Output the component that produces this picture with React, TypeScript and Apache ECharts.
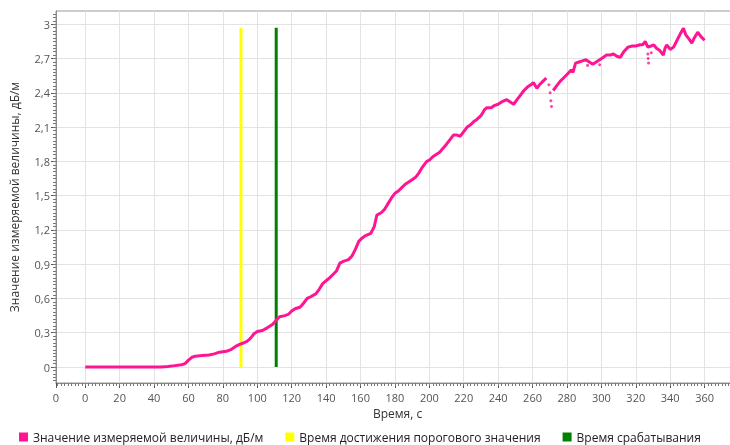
import React, { useEffect, useRef } from "react";
import * as echarts from "echarts";

const seriesNames = [
  "Значение измеряемой величины, дБ/м",
  "Время достижения порогового значения",
  "Время срабатывания",
];

const times: (number | null)[] = [
  0, 10, 20, 30, 40, 44, 48, 52, 56, 58, 60, 62, 64, 68, 72, 75, 78, 82, 85, 88, 90, 92, 94, 96, 98,
  100, 103, 106, 109, 111, 113, 116, 118, 120, 122, 125, 127, 129, 131, 134, 136, 138, 140, 142,
  144, 146, 148, 150, 153, 155, 157, 159, 161, 163, 166, 168, 169.5, 172, 174, 176, 178, 180, 182,
  184, 186, 188, 190, 192, 194, 196, 198.5, 200, 202, 204, 206, 208, 210, 212, 214, 216, 218, 220,
  222, 224, 226, 227.5, 230, 232, 233.5, 236, 238, 240, 242, 245, 247, 249, 251, 253, 255, 257, 259,
  260.5, 262.5, 264, 266, 268, 270, 272, 274, 276, 278, 280, 282.5, 283.5, 285, 287, 289, 291, 293,
  295, 297, 299, 301, 303, 305, 307, 309, 311, 313, 315.5, 318, 320, 322.5, 324, 325.5, 327, 329,
  330.5, 332, 334, 336, 337, 338, 340, 342, 344, 346, 347.7, 349, 351, 352.6, 354, 356, 358, 360,
];

const values: (number | null)[] = [
  0, 0, 0, 0, 0, 0, 0.005, 0.012, 0.02, 0.03, 0.06, 0.085, 0.095, 0.1, 0.105, 0.115, 0.13, 0.137,
  0.155, 0.185, 0.2, 0.21, 0.225, 0.25, 0.29, 0.31, 0.32, 0.345, 0.375, 0.41, 0.44, 0.45, 0.46, 0.49,
  0.51, 0.525, 0.56, 0.6, 0.615, 0.64, 0.68, 0.73, 0.755, 0.78, 0.81, 0.84, 0.91, 0.925, 0.94, 0.97,
  1.03, 1.1, 1.13, 1.15, 1.17, 1.23, 1.33, 1.35, 1.38, 1.43, 1.48, 1.52, 1.54, 1.57, 1.6, 1.62, 1.64,
  1.66, 1.7, 1.75, 1.8, 1.81, 1.84, 1.86, 1.88, 1.915, 1.95, 1.99, 2.03, 2.03, 2.02, 2.06, 2.1, 2.12,
  2.15, 2.165, 2.2, 2.25, 2.27, 2.27, 2.29, 2.3, 2.32, 2.34, 2.32, 2.3, 2.34, 2.38, 2.42, 2.45, 2.47,
  2.49, 2.44, 2.47, 2.5, 2.53, null, 2.42, 2.46, 2.5, 2.53, 2.56, 2.6, 2.58, 2.66, 2.67, 2.68, 2.69,
  2.67, 2.65, 2.67, 2.69, 2.71, 2.73, 2.73, 2.74, 2.72, 2.71, 2.76, 2.8, 2.81, 2.81, 2.82, 2.82, 2.85,
  2.8, 2.81, 2.82, 2.79, 2.77, 2.73, 2.79, 2.82, 2.78, 2.8, 2.86, 2.92, 2.965, 2.91, 2.87, 2.835,
  2.88, 2.93, 2.89, 2.86,
];

const outlierTimes = [269.5, 270.2, 270.6, 271, 292, 299, 327, 327.2, 327.4, 329];
const outlierValues = [2.47, 2.4, 2.33, 2.28, 2.64, 2.645, 2.74, 2.7, 2.66, 2.75];

const thresholdTime = 90.5;
const triggerTime = 111;
const markerRange = [0, 2.97];

const xRange = { min: -17, max: 380 };
const yRange = { min: -0.14, max: 3.116 };
const xTickValues = [
  -17, 0, 20, 40, 60, 80, 100, 120, 140, 160, 180, 200, 220, 240, 260, 280, 300, 320, 340, 360, 380,
];
const yTickValues = [0, 0.3, 0.6, 0.9, 1.2, 1.5, 1.8, 2.1, 2.4, 2.7, 3];
const xMinorStep = 2;
const yMinorStep = 0.03;

const FONT = "'Segoe UI', 'Open Sans', 'Noto Sans', sans-serif";

function minorValues(min: number, max: number, step: number): number[] {
  const out: number[] = [];
  const start = Math.ceil(min / step - 1e-9);
  const end = Math.floor(max / step + 1e-9);
  for (let k = start; k <= end; k++) out.push(Math.round(k * step * 1000) / 1000);
  return out;
}

export default function App() {
  const ref = useRef<HTMLDivElement>(null);
  useEffect(() => {
    if (!ref.current) return;
    const chart = echarts.init(ref.current, undefined, { renderer: "svg" });
    const mainData = times.map((t, i) => [t, values[i]]);
    const outData = outlierTimes.map((t, i) => [t, outlierValues[i]]);
    const xMinor = minorValues(xRange.min, xRange.max, xMinorStep);
    const yMinor = minorValues(yRange.min, yRange.max, yMinorStep);
    chart.setOption({
      animation: false,
      textStyle: { fontFamily: FONT },
      grid: {
        left: 56,
        top: 11,
        right: -9,
        bottom: 62,
        show: true,
        borderColor: "#9a9a9a",
        borderWidth: 1,
        containLabel: false,
        outerBoundsMode: "none",
      },
      legend: {
        data: seriesNames.map((n) => ({ name: n, icon: "rect" })),
        left: 14,
        top: 426,
        itemWidth: 9,
        itemHeight: 9,
        itemGap: 22,
        textStyle: { fontSize: 12, color: "#222", fontFamily: FONT },
      },
      xAxis: [
        {
          type: "value",
          min: xRange.min,
          max: xRange.max,
          position: "bottom",
          name: "Время, с",
          nameLocation: "middle",
          nameGap: 24,
          nameTextStyle: { fontSize: 12, color: "#333", fontFamily: FONT },
          axisLine: { show: true, onZero: false, lineStyle: { color: "#8a8a8a" } },
          axisTick: { show: true, length: 5, customValues: xTickValues, lineStyle: { color: "#555" } },
          axisLabel: {
            fontSize: 11,
            color: "#555",
            margin: 9,
            customValues: xTickValues,
            formatter: (v: number) => (v < 0 ? "0" : String(Math.round(v))),
          },
          splitLine: { show: true, lineStyle: { color: "#e3e3e3" } },
        },
        {
          type: "value",
          min: xRange.min,
          max: xRange.max,
          position: "bottom",
          offset: 0,
          axisLine: { show: false, onZero: false },
          axisTick: { show: true, length: 3, customValues: xMinor, lineStyle: { color: "#777" } },
          axisLabel: { show: false },
          splitLine: { show: false },
        },
      ],
      yAxis: [
        {
          type: "value",
          min: yRange.min,
          max: yRange.max,
          position: "left",
          name: "Значение измеряемой величины, дБ/м",
          nameLocation: "middle",
          nameGap: 36,
          nameTextStyle: { fontSize: 12, color: "#333", fontFamily: FONT },
          axisLine: { show: true, onZero: false, lineStyle: { color: "#8a8a8a" } },
          axisTick: { show: true, length: 5, customValues: yTickValues, lineStyle: { color: "#555" } },
          axisLabel: {
            fontSize: 11,
            color: "#555",
            margin: 6,
            customValues: yTickValues,
            formatter: (v: number) => String(Math.round(v * 10) / 10).replace(".", ","),
          },
          splitLine: { show: true, lineStyle: { color: "#e3e3e3" } },
        },
        {
          type: "value",
          min: yRange.min,
          max: yRange.max,
          position: "left",
          offset: 0,
          axisLine: { show: false, onZero: false },
          axisTick: { show: true, length: 3, customValues: yMinor, lineStyle: { color: "#777" } },
          axisLabel: { show: false },
          splitLine: { show: false },
        },
      ],
      series: [
        {
          name: seriesNames[0],
          type: "line",
          data: mainData,
          symbol: "none",
          connectNulls: false,
          lineStyle: { color: "#ff1493", width: 3 },
          itemStyle: { color: "#ff1493" },
          z: 3,
        },
        {
          name: "outliers",
          type: "scatter",
          data: outData,
          symbolSize: 3,
          itemStyle: { color: "#ff1493" },
          z: 3,
        },
        {
          name: seriesNames[1],
          type: "line",
          data: markerRange.map((v) => [thresholdTime, v]),
          symbol: "none",
          lineStyle: { color: "#ffff00", width: 3 },
          itemStyle: { color: "#ffff00" },
          z: 2,
        },
        {
          name: seriesNames[2],
          type: "line",
          data: markerRange.map((v) => [triggerTime, v]),
          symbol: "none",
          lineStyle: { color: "#008000", width: 3 },
          itemStyle: { color: "#008000" },
          z: 2,
        },
      ],
    });
    return () => chart.dispose();
  }, []);
  return (
    <div
      ref={ref}
      style={{ position: "fixed", left: 0, top: 0, width: 730, height: 445 }}
    />
  );
}
